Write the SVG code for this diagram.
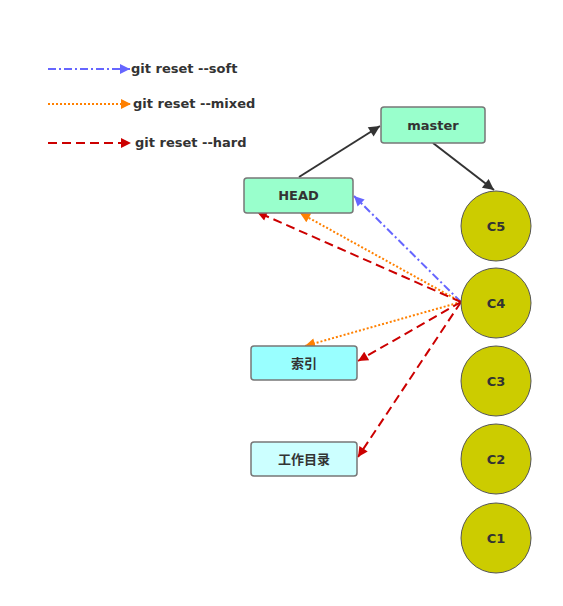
<svg xmlns="http://www.w3.org/2000/svg" width="563" height="606" viewBox="0 0 563 606">
<style>
text{font-family:"DejaVu Sans","Noto Sans CJK SC",sans-serif;font-weight:bold;font-size:13px;fill:#333;}
.c{text-anchor:middle;dominant-baseline:central;}
.box{stroke:#777;stroke-width:1.5;}
.commit{fill:#CCCC00;stroke:#555;stroke-width:1;}
.black{stroke:#333;stroke-width:2;fill:none;}
.soft{stroke:#6666FF;stroke-width:2;fill:none;stroke-dasharray:8 3 2 3;}
.mixed{stroke:#FF8000;stroke-width:2;fill:none;stroke-dasharray:2 2;}
.hard{stroke:#CC0000;stroke-width:2;fill:none;stroke-dasharray:9 5;}
</style>
<defs>
<marker id="mb" viewBox="0 0 10 10" refX="10" refY="5" markerWidth="15" markerHeight="11" markerUnits="userSpaceOnUse" orient="auto"><path d="M0,0 L10,5 L0,10 z" fill="#333"/></marker>
<marker id="ms" viewBox="0 0 10 10" refX="10" refY="5" markerWidth="14" markerHeight="10" markerUnits="userSpaceOnUse" orient="auto"><path d="M0,0 L10,5 L0,10 z" fill="#6666FF"/></marker>
<marker id="mm" viewBox="0 0 10 10" refX="10" refY="5" markerWidth="14" markerHeight="10" markerUnits="userSpaceOnUse" orient="auto"><path d="M0,0 L10,5 L0,10 z" fill="#FF8000"/></marker>
<marker id="mh" viewBox="0 0 10 10" refX="10" refY="5" markerWidth="14" markerHeight="10" markerUnits="userSpaceOnUse" orient="auto"><path d="M0,0 L10,5 L0,10 z" fill="#CC0000"/></marker>
</defs>
<rect width="563" height="606" fill="#fff"/>
<g id="legend">
<line class="soft" x1="48" y1="69" x2="130" y2="69" marker-end="url(#ms)"/>
<text x="131" y="73">git reset --soft</text>
<line class="mixed" x1="48" y1="104" x2="131" y2="104" marker-end="url(#mm)"/>
<text x="133" y="108">git reset --mixed</text>
<line class="hard" x1="48" y1="143" x2="131" y2="143" marker-end="url(#mh)"/>
<text x="135" y="147">git reset --hard</text>
</g>
<g id="connectors">
<line class="black" x1="299" y1="177" x2="380" y2="126" marker-end="url(#mb)"/>
<line class="black" x1="433" y1="143" x2="494" y2="190" marker-end="url(#mb)"/>
<line class="soft" x1="461" y1="302" x2="354" y2="196" marker-end="url(#ms)"/>
<line class="mixed" x1="461" y1="302" x2="300" y2="213" marker-end="url(#mm)"/>
<line class="mixed" x1="461" y1="302" x2="305" y2="346" marker-end="url(#mm)"/>
<line class="hard" x1="461" y1="302" x2="257" y2="212" marker-end="url(#mh)"/>
<line class="hard" x1="461" y1="302" x2="358" y2="361" marker-end="url(#mh)"/>
<line class="hard" x1="461" y1="302" x2="358" y2="457" marker-end="url(#mh)"/>
</g>
<g id="master"><rect class="box" x="381" y="107" width="104" height="36" rx="3" fill="#99FFCC"/><text class="c" x="433" y="125">master</text></g>
<g id="HEAD"><rect class="box" x="244" y="178" width="109" height="35" rx="3" fill="#99FFCC"/><text class="c" x="298.5" y="195.5">HEAD</text></g>
<g id="index"><rect class="box" x="251" y="346" width="106" height="34" rx="3" fill="#99FFFF"/><text class="c" x="304" y="363">索引</text></g>
<g id="workdir"><rect class="box" x="251" y="442" width="106" height="34" rx="3" fill="#CCFFFF"/><text class="c" x="304" y="459">工作目录</text></g>
<g id="C5"><circle class="commit" cx="496" cy="226" r="35"/><text class="c" x="496" y="226">C5</text></g>
<g id="C4"><circle class="commit" cx="496" cy="303" r="35"/><text class="c" x="496" y="303">C4</text></g>
<g id="C3"><circle class="commit" cx="496" cy="381" r="35"/><text class="c" x="496" y="381">C3</text></g>
<g id="C2"><circle class="commit" cx="496" cy="459" r="35"/><text class="c" x="496" y="459">C2</text></g>
<g id="C1"><circle class="commit" cx="496" cy="538" r="35"/><text class="c" x="496" y="538">C1</text></g>
</svg>
